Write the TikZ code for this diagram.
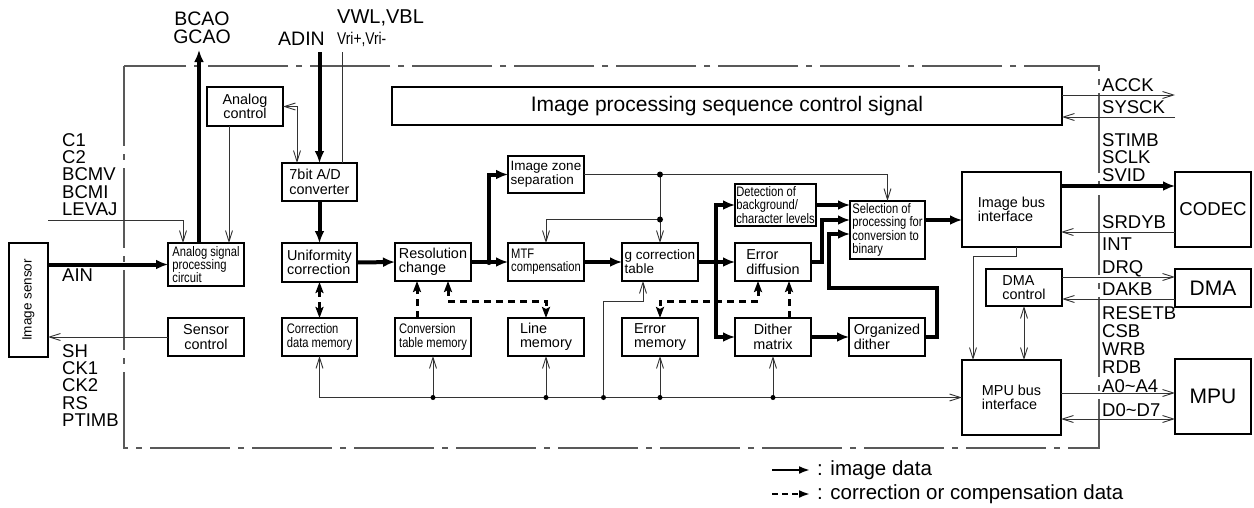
\documentclass[tikz,border=0pt]{standalone}
\usepackage{fontspec}
\setmainfont{Liberation Sans}
\usetikzlibrary{arrows.meta,calc}
\lineskiplimit=-20pt
\newcommand\cnd[1]{\scalebox{0.81}[1]{#1}}
\tikzset{
  myl/.tip={Latex[length=12pt,width=10pt]},
  myb/.tip={Straight Barb[length=11pt,width=7pt]},
  mys/.tip={Stealth[length=11pt,width=8pt,inset=2pt]},
  box/.style={draw=black,line width=1.2pt,inner sep=0pt,outer sep=0pt,font=\fontsize{14.4}{14.5}\selectfont},
  wh/.style 2 args={minimum width=#1pt,minimum height=#2pt},
  cond/.style={font=\fontsize{13.8}{13.3}\selectfont},
  lbl/.style={inner sep=0pt,anchor=north west,align=left,font=\fontsize{18.5}{17.4}\selectfont},
  thk/.style={draw=black,line width=4pt,-myl},
  thn/.style={draw=black!80,line width=0.9pt,-myb},
  thnb/.style={draw=black!80,line width=0.9pt,myb-myb},
  dsh/.style={draw=black,line width=3pt,dash pattern=on 7pt off 5pt,-mys},
  dshb/.style={draw=black,line width=3pt,dash pattern=on 7pt off 5pt,mys-mys},
  boundary/.style={draw=black!65,line width=1.1pt,dash pattern=on 80pt off 8pt on 6pt off 8pt},
}
\begin{document}
\begin{tikzpicture}[x=1pt,y=-1pt]
\useasboundingbox (0,0) rectangle (1254,507);
% boundary
\draw[boundary] (124,66) rectangle (1099,448);
% boxes
\node[box,wh={39}{114}] (sensor) at (28.5,300) {\rotatebox{90}{\fontsize{13.5}{14}\selectfont Image sensor}};
\node[box,wh={76}{43},cond,align=left] (asp) at (206,264.5) {\cnd{Analog signal}\\\cnd{processing}\\\cnd{circuit}};
\node[box,wh={76}{38},align=center] (sc) at (206,337) {Sensor\\control};
\node[box,wh={76}{39},align=center] (ac) at (245,106.5) {Analog\\control};
\node[box,wh={75}{38},align=left] (ad) at (319.5,182) {7bit A/D\\converter};
\node[box,wh={75}{39},align=left] (uc) at (319.5,262.5) {Uniformity\\correction};
\node[box,wh={75}{38},cond,align=left] (cdm) at (319.5,337) {\cnd{Correction}\\\cnd{data memory}};
\node[box,wh={76}{38},align=left] (rc) at (433,262) {Resolution\\change};
\node[box,wh={76}{38},cond,align=left] (ctm) at (433,337) {\cnd{Conversion}\\\cnd{table memory}};
\node[box,wh={76}{37},align=left,font=\fontsize{13.5}{14}\selectfont] (izs) at (546,174.5) {Image zone\\separation};
\node[box,wh={76}{38},cond,align=left] (mtf) at (546,262) {\cnd{MTF}\\\cnd{compensation}};
\node[box,wh={76}{38},align=left] (lm) at (546,337) {Line\\memory};
\node[box,wh={76}{38},align=left,font=\fontsize{13.5}{14}\selectfont] (gct) at (660,262) {g correction\\table};
\node[box,wh={76}{38},align=left] (em) at (660,337) {Error\\memory};
\node[box,wh={81}{42},cond,align=left] (det) at (775.5,205) {\cnd{Detection of}\\\cnd{background/}\\\cnd{character levels}};
\node[box,wh={76}{38},align=left] (ed) at (773,262) {Error\\diffusion};
\node[box,wh={76}{38},align=center] (dm) at (773,337) {Dither\\matrix};
\node[box,wh={75}{58},cond,align=left] (sel) at (887.5,230) {\cnd{Selection of}\\\cnd{processing for}\\\cnd{conversion to}\\\cnd{binary}};
\node[box,wh={76}{38},align=left] (od) at (887,337) {Organized\\dither};
\node[box,wh={670}{38},font=\fontsize{21}{22}\selectfont] (ipsc) at (727,106) {Image processing sequence control signal};
\node[box,wh={99}{75},align=left] (ibi) at (1011.5,209.5) {Image bus\\interface};
\node[box,wh={76}{37},align=left] (dmac) at (1024,287.5) {DMA\\control};
\node[box,wh={99}{75},align=left] (mpubi) at (1011.5,397.5) {MPU bus\\interface};
\node[box,wh={76}{75},font=\fontsize{18.6}{20}\selectfont] (codec) at (1213,209.5) {CODEC};
\node[box,wh={76}{38},font=\fontsize{21}{22}\selectfont] (dma) at (1213,288) {DMA};
\node[box,wh={76}{75},font=\fontsize{21}{22}\selectfont] (mpu) at (1213,396.5) {MPU};
% labels
\node[lbl] (lc) at (62,133) {C1\\C2\\BCMV\\BCMI\\LEVAJ};
\node[lbl] (lsh) at (62,344) {SH\\CK1\\CK2\\RS\\PTIMB};
\node[lbl] (lain) at (62,269) {AIN};
\node[lbl,anchor=north,align=center,font=\fontsize{19.5}{18}\selectfont] (lbcao) at (202,12) {BCAO\\GCAO};
\node[lbl,font=\fontsize{19.5}{20}\selectfont] (ladin) at (278,32) {ADIN};
\node[lbl,font=\fontsize{20}{20}\selectfont] (lvwl) at (337,10) {VWL,VBL};
\node[lbl,font=\fontsize{17}{17}\selectfont] (lvri) at (337,32) {\cnd{Vri+,Vri-}};
\node[lbl] (lacck) at (1102,78) {ACCK};
\node[lbl] (lsysck) at (1102,100) {SYSCK};
\node[lbl,font=\fontsize{18.5}{17.5}\selectfont] (lstimb) at (1102,133) {STIMB\\SCLK\\SVID};
\node[lbl] (lsrdyb) at (1102,215) {SRDYB};
\node[lbl] (lint) at (1102,238) {INT};
\node[lbl] (ldrq) at (1102,260) {DRQ};
\node[lbl] (ldakb) at (1102,283) {DAKB};
\node[lbl,font=\fontsize{18.5}{18}\selectfont] (lreset) at (1102,306) {RESETB\\CSB\\WRB\\RDB};
\node[lbl] (la0) at (1102,379) {A0\textasciitilde A4};
\node[lbl] (ld0) at (1102,403) {D0\textasciitilde D7};
% connectors, left part
\draw[thk] (sensor.east |- asp.west) -- (asp.west);
\coordinate (levaj) at (48,220);
\draw[thn] (levaj) -| ($(asp.north)+(-23,0)$);
\coordinate (bcao) at (199,50);
\draw[thk] ($(asp.north)+(-7,0)$) -- (bcao);
\coordinate (acS) at ($(ac.south)+(-16,0)$);
\draw[thn] (acS) -- (acS |- asp.north);
\draw[thnb] (ac.east) -| ($(ad.north)+(-22.5,0)$);
\coordinate (adin) at (319.5,52);
\draw[thk] (adin) -- (ad.north);
\coordinate (vri) at (342,52);
\draw[thn,-] (vri) -- (vri |- ad.north);
\draw[thk] (ad.south) -- (uc.north);
\draw[dshb] (uc.south) -- (cdm.north);
\draw[thn] (sc.west) -- (sensor.east |- sc.west);
% main image path
\draw[thk] (uc.east) -- (rc.west);
\coordinate (j1) at (489,262);
\draw[thk] (rc.east) -- (mtf.west);
\draw[thk] (j1) |- (izs.west);
\coordinate (j2) at (gct.north |- izs.east);
\draw[thn] (izs.east) -| (sel.north);
\coordinate (j3) at ($(j2)+(0,45)$);
\draw[thn] (j2) -- (gct.north);
\draw[thn] (j3) -| (mtf.north);
\draw[thk] (mtf.east) -- (gct.west);
\draw[thk] (gct.east) -- (ed.west);
\coordinate (j4) at (716,262);
\draw[thk] (j4) |- (det.west);
\draw[thk] (j4) |- (dm.west);
\draw[thk] (det.east) -- (det.east -| sel.west);
\draw[thk] (ed.east) -- ++(11,0) |- ($(sel.west)+(0,-10)$);
\coordinate (odc) at (829,288);
\draw[thk] (od.east) -- ++(12,0) |- (odc) |- ($(sel.west)+(0,4)$);
\coordinate (selo) at ($(sel.east)+(0,-10)$);
\draw[thk] (selo) -- (selo -| ibi.west);
\draw[thk] (dm.east) -- (od.west);
% dashed correction data
\coordinate (ctmN) at ($(ctm.north)+(-16,0)$);
\draw[dsh] (ctmN) -- (ctmN |- rc.south);
\draw[dshb] ($(rc.south)+(15,0)$) -- ++(0,20) -| (lm.north);
\coordinate (dmN) at ($(dm.north)+(16,0)$);
\draw[dsh] (dmN) -- (dmN |- ed.south);
\draw[dshb] ($(ed.south)+(-15,0)$) -- ++(0,20) -| (em.north);
% bus
\coordinate (busL) at (cdm.south |- mpubi.west);
\draw[thnb] (cdm.south) -- (busL) -- (mpubi.west);
\coordinate (b1) at (ctm.south |- busL);
\coordinate (b2) at (lm.south |- busL);
\path (busL) ++(284,0) coordinate (b3);
\coordinate (b4) at (em.south |- busL);
\coordinate (b5) at (dm.south |- busL);
\draw[thn] (b1) -- (ctm.south);
\draw[thn] (b2) -- (lm.south);
\draw[thn] (b4) -- (em.south);
\draw[thn] (b5) -- (dm.south);
\draw[thn] (b3) |- ($(gct.south)+(-17,20)$) -- ($(gct.south)+(-17,0)$);
% right part
\draw[thn] ($(ibi.south)+(4.5,0)$) -- ++(0,9) -| ($(mpubi.north)+(-38.5,0)$);
\draw[thnb] (dmac.south) -- (dmac.south |- mpubi.north);
\coordinate (ipA) at ($(ipsc.east)+(0,-11)$);
\coordinate (acck) at (1175,95);
\draw[thn] (ipA) -- (acck);
\coordinate (sysck) at (1175,117);
\draw[thn] (sysck) -- (sysck -| ipsc.east);
\coordinate (ibS) at ($(ibi.east)+(0,-23.5)$);
\draw[thk] (ibS) -- (ibS -| codec.west);
\coordinate (cdR) at ($(codec.west)+(0,22.5)$);
\draw[thn] (cdR) -- (cdR -| ibi.east);
\coordinate (dq) at ($(dmac.east)+(0,-10.5)$);
\draw[thn] (dq) -- (dq -| dma.west);
\coordinate (dk) at ($(dma.west)+(0,11)$);
\draw[thn] (dk) -- (dk -| dmac.east);
\coordinate (aa) at ($(mpubi.east)+(0,-4.5)$);
\draw[thn] (aa) -- (aa -| mpu.west);
\coordinate (dd) at ($(mpubi.east)+(0,21.5)$);
\draw[thnb] (dd) -- (dd -| mpu.west);
% dots
\foreach \p in {j1,j2,j3,j4} \fill (\p) circle (3);
\foreach \p in {b1,b2,b3,b4,b5} \fill (\p) circle (2.5);
% legend
\coordinate (lg1a) at (772,470); \coordinate (lg1b) at (810,470);
\coordinate (lg2a) at (772,494); \coordinate (lg2b) at (810,494);
\draw[line width=2.2pt,-{Latex[length=11pt,width=8pt]}] (lg1a) -- (lg1b);
\draw[line width=2.2pt,dash pattern=on 6pt off 4pt,-{Latex[length=11pt,width=8pt]}] (lg2a) -- (lg2b);
\node[anchor=base west,inner sep=0pt,font=\fontsize{20.5}{22}\selectfont] (lt1) at (817,475) {: image data};
\node[anchor=base west,inner sep=0pt,font=\fontsize{20.5}{22}\selectfont] (lt2) at (817,499) {: correction or compensation data};
\end{tikzpicture}
\end{document}
